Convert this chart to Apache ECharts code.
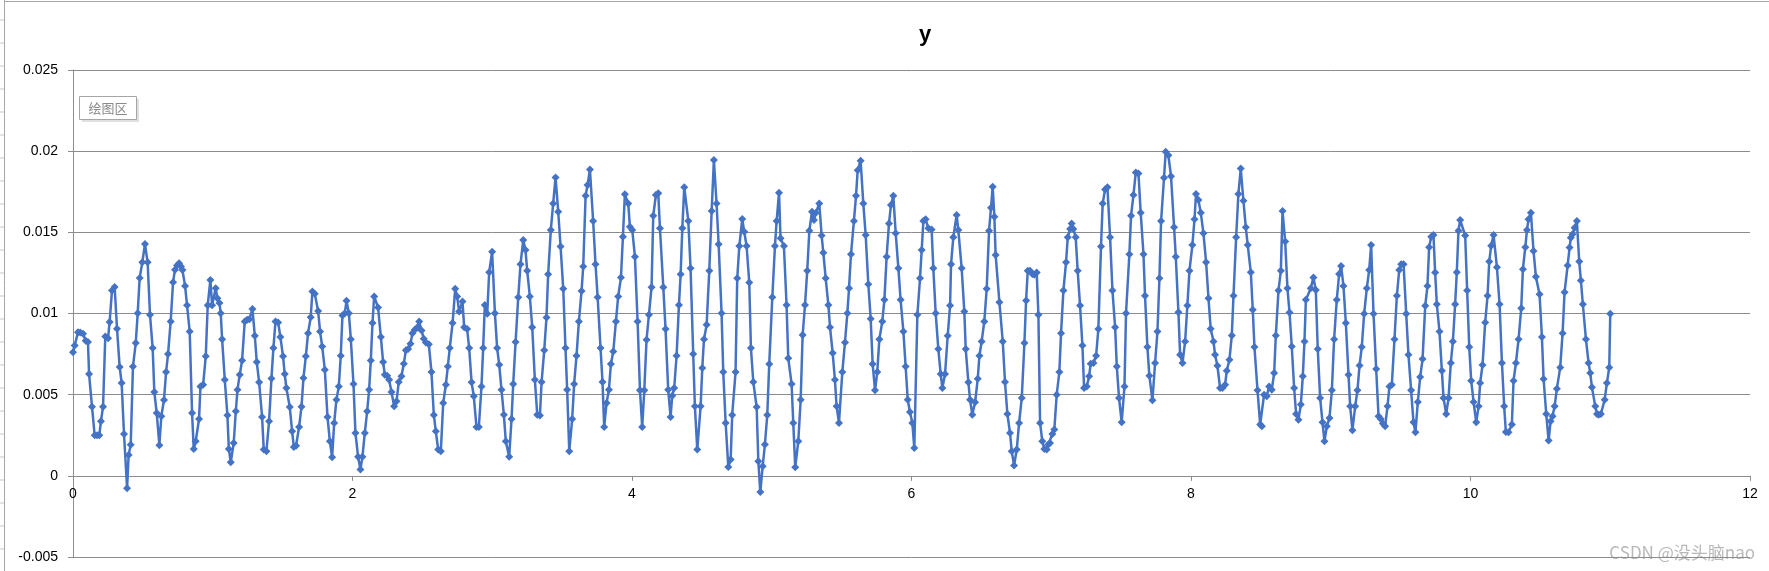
<!DOCTYPE html>
<html>
<head>
<meta charset="utf-8">
<script src="https://cdn.jsdelivr.net/npm/echarts@6/dist/echarts.min.js"></script>
<style>
html,body{margin:0;padding:0;background:#fff;}
#chart{width:1769px;height:571px;}
</style>
</head>
<body>
<div id="chart"></div>
<script>
// Tick settings
const xTicks = { min: 0, max: 12, interval: 2 };
const yTicks = { min: -0.005, max: 0.025, interval: 0.005 };
const chartTitle = 'y';
const plotAreaLabel = '绘图区';
const watermark = 'CSDN @没头脑nao';

// Samples [x, y], in segments
const seg1 = [[0,0.00762],[0.012,0.00803],[0.036,0.00885],[0.052,0.00883],[0.072,0.00875],[0.091,0.00832],[0.107,0.00824],[0.115,0.00627],[0.136,0.00426],[0.155,0.0025],[0.172,0.0025],[0.188,0.0025],[0.2,0.00336],[0.215,0.00426],[0.231,0.00859],[0.251,0.00848],[0.262,0.00947],[0.279,0.01141],[0.298,0.01164],[0.315,0.00906],[0.334,0.0067],[0.348,0.00572],[0.365,0.00258],[0.387,-0.00076],[0.398,0.00129],[0.413,0.00191],[0.429,0.00674],[0.449,0.00818],[0.463,0.01002],[0.477,0.01219],[0.496,0.01316],[0.515,0.01428],[0.534,0.01316],[0.551,0.00992],[0.57,0.00787],[0.582,0.00516],[0.599,0.00387],[0.618,0.00189],[0.632,0.00367],[0.651,0.00467],[0.666,0.00639],[0.68,0.0075],[0.699,0.00951],[0.716,0.01193],[0.73,0.0127],[0.744,0.01295],[0.759,0.01309],[0.773,0.01289],[0.783,0.01268],[0.802,0.0117],[0.816,0.01051],[0.835,0.00889],[0.852,0.00387],[0.864,0.00166],[0.878,0.00213],[0.902,0.0035],[0.912,0.00551],[0.931,0.00561],[0.95,0.00736],[0.964,0.01051],[0.983,0.01207],[0.995,0.01051]];
const seg2 = [[1.021,0.01156],[1.033,0.01094],[1.048,0.01064],[1.057,0.01002],[1.067,0.00842],[1.086,0.00592],[1.105,0.00373],[1.115,0.00166],[1.129,0.00084],[1.15,0.00203],[1.165,0.00398],[1.177,0.00531],[1.193,0.00623],[1.21,0.00711],[1.229,0.00951],[1.246,0.00961],[1.262,0.00965],[1.284,0.01027],[1.301,0.00863],[1.315,0.00701],[1.332,0.00576],[1.353,0.00363],[1.365,0.00162],[1.384,0.00152],[1.403,0.00336],[1.42,0.006],[1.434,0.00787],[1.449,0.00951],[1.468,0.00945],[1.484,0.00855],[1.503,0.00736],[1.515,0.00627],[1.527,0.00541],[1.551,0.00424],[1.568,0.00275],[1.58,0.00178],[1.596,0.00186],[1.618,0.00301],[1.635,0.00426],[1.649,0.00602],[1.666,0.00736],[1.682,0.00879],[1.701,0.00977],[1.713,0.01135],[1.73,0.01121],[1.754,0.01016],[1.768,0.00889],[1.783,0.00797],[1.802,0.00654],[1.821,0.00363],[1.838,0.00213],[1.854,0.00115],[1.869,0.00326],[1.885,0.00469],[1.902,0.00551],[1.916,0.0074],[1.928,0.00988],[1.945,0.01002],[1.957,0.01078],[1.974,0.01002],[1.988,0.00842],[2.007,0.00566],[2.021,0.00264],[2.04,0.00117],[2.057,0.00039],[2.071,0.00117],[2.088,0.00264],[2.105,0.00398],[2.119,0.00531],[2.131,0.00711],[2.143,0.00941],[2.155,0.01105]];
const seg3 = [[2.183,0.01037],[2.203,0.00855],[2.219,0.00701],[2.231,0.00623],[2.248,0.00617],[2.262,0.00592],[2.279,0.00516],[2.298,0.00428],[2.315,0.00459],[2.331,0.00578],[2.35,0.00613],[2.367,0.00691],[2.382,0.00773],[2.398,0.00781],[2.415,0.00814],[2.429,0.00879],[2.446,0.009],[2.463,0.00914],[2.477,0.00951],[2.494,0.00896],[2.51,0.00844],[2.525,0.00822],[2.546,0.00811],[2.565,0.00639],[2.582,0.00375],[2.596,0.00275],[2.613,0.00162],[2.632,0.00152],[2.649,0.00449],[2.668,0.00561],[2.682,0.00674],[2.696,0.00787],[2.716,0.00941],[2.735,0.01152],[2.749,0.01105],[2.763,0.01012],[2.787,0.01074],[2.799,0.00916],[2.82,0.00904],[2.835,0.00787],[2.852,0.00576],[2.868,0.0049],[2.887,0.00301],[2.904,0.00301],[2.923,0.00551],[2.935,0.00787],[2.947,0.01053],[2.964,0.00998],[2.978,0.01254],[2.999,0.01381],[3.019,0.01002],[3.035,0.00787],[3.05,0.00684],[3.066,0.00531],[3.083,0.00377],[3.097,0.00213],[3.121,0.00117],[3.138,0.0035],[3.15,0.00566],[3.167,0.00824],[3.186,0.011],[3.202,0.01303],[3.222,0.01453],[3.238,0.01391],[3.25,0.01264]];
const seg4 = [[3.269,0.01105],[3.286,0.00916],[3.305,0.00592],[3.322,0.00377],[3.341,0.00371],[3.353,0.00578],[3.372,0.00773],[3.388,0.00975],[3.4,0.01242],[3.419,0.01514],[3.436,0.01678],[3.453,0.01838],[3.472,0.01627],[3.489,0.01412],[3.508,0.01152],[3.524,0.00787],[3.536,0.00531],[3.551,0.00152],[3.572,0.0035],[3.586,0.00566],[3.603,0.0074],[3.62,0.00951],[3.639,0.01139],[3.651,0.01289],[3.668,0.01725],[3.682,0.01791],[3.699,0.01887],[3.722,0.0157],[3.739,0.01303],[3.754,0.011],[3.775,0.00787],[3.789,0.00578],[3.801,0.00301],[3.818,0.00449],[3.835,0.00531],[3.849,0.00689],[3.866,0.00766],[3.885,0.00951],[3.901,0.01105],[3.921,0.01221],[3.935,0.01473],[3.949,0.01734],[3.973,0.01678],[3.985,0.01535],[4.002,0.01514],[4.021,0.0135],[4.04,0.00951],[4.057,0.00527],[4.073,0.00301],[4.088,0.00527],[4.104,0.00838],[4.121,0.00992],[4.14,0.01162],[4.152,0.01602],[4.171,0.0173],[4.188,0.0174],[4.2,0.01525],[4.224,0.01162],[4.24,0.00904],[4.259,0.00531],[4.276,0.00363],[4.288,0.00494],[4.302,0.00541],[4.319,0.0074],[4.336,0.01053],[4.348,0.01242],[4.36,0.01525],[4.374,0.01777]];
const seg5 = [[4.403,0.0157],[4.419,0.01279],[4.438,0.0075],[4.45,0.00428],[4.467,0.00162],[4.491,0.00428],[4.503,0.00664],[4.515,0.00842],[4.534,0.0093],[4.553,0.01264],[4.57,0.01631],[4.586,0.01945],[4.605,0.01678],[4.62,0.01426],[4.641,0.01002],[4.653,0.00639],[4.67,0.00326],[4.689,0.00055],[4.706,0.001],[4.717,0.00375],[4.741,0.00639],[4.753,0.01217],[4.768,0.01416],[4.789,0.01582],[4.803,0.01504],[4.82,0.01416],[4.839,0.01191],[4.851,0.00787],[4.868,0.00578],[4.892,0.00424],[4.904,0.0009],[4.918,-0.001],[4.935,0.00059],[4.951,0.00193],[4.968,0.00375],[4.982,0.00689],[5.004,0.011],[5.023,0.01416],[5.035,0.0157],[5.052,0.01744],[5.063,0.01463],[5.087,0.01416],[5.106,0.01053],[5.118,0.00725],[5.142,0.00566],[5.154,0.00326],[5.168,0.00053],[5.19,0.00213],[5.207,0.00469],[5.221,0.00867],[5.238,0.01053],[5.254,0.01264],[5.269,0.0151],[5.288,0.01627],[5.302,0.01576],[5.316,0.01621],[5.34,0.01678],[5.357,0.0148],[5.369,0.01375],[5.386,0.01217],[5.405,0.01053],[5.417,0.00916],[5.436,0.00756],[5.452,0.00592],[5.464,0.00428],[5.481,0.00326]];
const seg6 = [[5.505,0.00639],[5.524,0.00822],[5.541,0.01002],[5.553,0.01156],[5.567,0.01365],[5.588,0.0157],[5.603,0.01725],[5.615,0.01883],[5.636,0.01941],[5.655,0.01678],[5.672,0.01484],[5.691,0.0118],[5.708,0.00967],[5.722,0.00689],[5.739,0.00527],[5.755,0.00639],[5.77,0.00842],[5.791,0.00951],[5.806,0.01084],[5.822,0.0135],[5.839,0.01555],[5.853,0.01668],[5.87,0.01725],[5.887,0.01494],[5.906,0.01279],[5.922,0.01084],[5.942,0.00889],[5.958,0.00674],[5.973,0.00469],[5.989,0.00393],[6.006,0.00326],[6.02,0.00172],[6.042,0.00992],[6.061,0.01217],[6.073,0.01391],[6.085,0.0157],[6.101,0.0158],[6.121,0.01525],[6.144,0.01518],[6.156,0.01279],[6.173,0.01002],[6.192,0.00781],[6.209,0.00627],[6.221,0.00541],[6.24,0.00627],[6.259,0.00863],[6.276,0.01049],[6.283,0.01303],[6.299,0.01469],[6.323,0.01607],[6.335,0.01514],[6.359,0.01279],[6.378,0.01012],[6.388,0.00781],[6.407,0.00576],[6.419,0.00469],[6.435,0.00377],[6.455,0.00453],[6.474,0.00598],[6.486,0.0074],[6.502,0.00828],[6.521,0.00951],[6.538,0.01152],[6.555,0.0151],[6.569,0.01652],[6.581,0.01781],[6.593,0.01596],[6.602,0.01361]];
const seg7 = [[6.629,0.0107],[6.653,0.00828],[6.669,0.00578],[6.686,0.00381],[6.705,0.00264],[6.717,0.00152],[6.734,0.00064],[6.753,0.00162],[6.77,0.00326],[6.789,0.0048],[6.808,0.00818],[6.82,0.0108],[6.832,0.01264],[6.848,0.01264],[6.865,0.01244],[6.879,0.01238],[6.896,0.01252],[6.908,0.00992],[6.92,0.00326],[6.936,0.00213],[6.951,0.00166],[6.968,0.00162],[6.979,0.00193],[6.991,0.00203],[7.008,0.00258],[7.022,0.00285],[7.039,0.005],[7.058,0.00639],[7.07,0.00879],[7.087,0.01141],[7.106,0.01316],[7.118,0.01469],[7.135,0.0152],[7.146,0.01555],[7.158,0.0152],[7.175,0.01469],[7.189,0.01264],[7.206,0.01049],[7.223,0.00803],[7.235,0.00541],[7.254,0.00551],[7.271,0.00613],[7.282,0.00691],[7.302,0.00695],[7.321,0.0074],[7.337,0.00904],[7.356,0.01412],[7.368,0.01678],[7.385,0.01764],[7.402,0.01777],[7.421,0.01469],[7.438,0.01141],[7.457,0.00916],[7.469,0.00674],[7.485,0.0048],[7.504,0.0033],[7.524,0.00551],[7.535,0.01002],[7.559,0.01365],[7.571,0.01602],[7.588,0.0173],[7.605,0.01869],[7.624,0.01863],[7.64,0.01621],[7.66,0.01365],[7.671,0.01109],[7.688,0.00793],[7.702,0.00617]];
const seg8 = [[7.724,0.00465],[7.743,0.00695],[7.76,0.00889],[7.774,0.01217],[7.786,0.0157],[7.807,0.01836],[7.819,0.01996],[7.838,0.01975],[7.857,0.01846],[7.879,0.01531],[7.891,0.0135],[7.91,0.01008],[7.922,0.00746],[7.939,0.00695],[7.958,0.00828],[7.974,0.01049],[7.989,0.01264],[8.01,0.01422],[8.025,0.0158],[8.036,0.01736],[8.053,0.01699],[8.07,0.01621],[8.089,0.01494],[8.108,0.01316],[8.125,0.01094],[8.141,0.00906],[8.161,0.00828],[8.172,0.00746],[8.189,0.00678],[8.208,0.00541],[8.225,0.00541],[8.244,0.00561],[8.256,0.00648],[8.275,0.00715],[8.292,0.00865],[8.304,0.01109],[8.323,0.01469],[8.339,0.01736],[8.356,0.01893],[8.375,0.01695],[8.392,0.01531],[8.406,0.01422],[8.428,0.01254],[8.442,0.01023],[8.454,0.00793],[8.476,0.00527],[8.495,0.00316],[8.507,0.00305],[8.523,0.005],[8.542,0.0049],[8.559,0.00551],[8.578,0.00531],[8.595,0.00633],[8.607,0.00865],[8.626,0.01141],[8.643,0.01264],[8.655,0.01631],[8.674,0.01443],[8.69,0.01156],[8.705,0.01006],[8.721,0.00797],[8.738,0.00541],[8.752,0.00381],[8.769,0.00346],[8.786,0.00439],[8.8,0.00613],[8.812,0.00828],[8.822,0.01084]];
const seg9 = [[8.857,0.01156],[8.876,0.01221],[8.893,0.01145],[8.907,0.00781],[8.924,0.0048],[8.941,0.0033],[8.955,0.00213],[8.972,0.00305],[8.991,0.00357],[9.008,0.00527],[9.024,0.00842],[9.043,0.01084],[9.06,0.01244],[9.074,0.01293],[9.091,0.0117],[9.108,0.00941],[9.127,0.00623],[9.139,0.00428],[9.155,0.00281],[9.175,0.00428],[9.191,0.00527],[9.206,0.0068],[9.222,0.00793],[9.239,0.00998],[9.258,0.01156],[9.275,0.01268],[9.289,0.01422],[9.306,0.00998],[9.325,0.00658],[9.342,0.00367],[9.358,0.0035],[9.373,0.00322],[9.389,0.00305],[9.406,0.00428],[9.42,0.00551],[9.437,0.00561],[9.456,0.00842],[9.473,0.01109],[9.49,0.01268],[9.504,0.01303],[9.521,0.01303],[9.54,0.00998],[9.556,0.00746],[9.575,0.00527],[9.592,0.0033],[9.606,0.00268],[9.623,0.00455],[9.64,0.00609],[9.657,0.00719],[9.676,0.01047],[9.692,0.0117],[9.704,0.01408],[9.719,0.01473],[9.735,0.01484],[9.747,0.01252],[9.759,0.01057],[9.778,0.00889],[9.795,0.00648],[9.807,0.0048],[9.826,0.00381],[9.843,0.0048],[9.859,0.00695],[9.874,0.00828],[9.89,0.01057],[9.902,0.01254],[9.914,0.0151],[9.926,0.01576]];
const seg10 = [[9.962,0.0148],[9.976,0.01141],[9.991,0.00793],[10.005,0.00586],[10.022,0.00455],[10.041,0.0033],[10.058,0.00428],[10.069,0.00572],[10.086,0.00682],[10.105,0.00945],[10.122,0.01109],[10.134,0.0132],[10.148,0.01418],[10.165,0.01484],[10.189,0.01285],[10.208,0.01057],[10.225,0.00695],[10.241,0.00428],[10.253,0.0027],[10.272,0.00268],[10.296,0.00316],[10.308,0.00586],[10.325,0.00695],[10.344,0.00842],[10.363,0.01033],[10.375,0.01273],[10.392,0.01408],[10.404,0.01514],[10.415,0.0158],[10.432,0.01621],[10.451,0.01385],[10.468,0.01227],[10.494,0.01119],[10.511,0.00855],[10.523,0.00596],[10.542,0.00381],[10.559,0.00217],[10.573,0.00336],[10.587,0.00367],[10.602,0.00428],[10.618,0.00537],[10.642,0.00668],[10.659,0.00879],[10.673,0.01131],[10.695,0.01295],[10.709,0.01406],[10.718,0.01467],[10.73,0.01488],[10.745,0.01529],[10.761,0.0157],[10.778,0.0132],[10.79,0.01203],[10.804,0.01057],[10.826,0.00842],[10.845,0.00695],[10.857,0.00633],[10.869,0.00545],[10.893,0.00428],[10.905,0.00381],[10.917,0.00377],[10.933,0.00381],[10.96,0.00469],[10.976,0.00572],[10.993,0.00668],[11,0.00998]];

const seriesData = [].concat(seg1, seg2, seg3, seg4, seg5, seg6, seg7, seg8, seg9, seg10);

const chart = echarts.init(document.getElementById('chart'), null, { renderer: 'canvas' });

const axisGray = '#8c8c8c';
const fontFam = '"Liberation Sans", Arial, sans-serif';

// grid geometry; the x axis is lifted from the grid bottom up to the y = 0 line
const gridTop = 70, gridBottom = 14, chartH = 571;
const plotH = chartH - gridTop - gridBottom;
const zeroLift = plotH * (0 - yTicks.min) / (yTicks.max - yTicks.min);

// sheet row ticks at the far left (decoration)
const rowTicks = [];
for (let k = 0; k < 25; k++) {
  rowTicks.push({ type: 'line', shape: { x1: 0, y1: 20 + 23 * k, x2: 4, y2: 20 + 23 * k }, style: { stroke: '#c8c8c8', lineWidth: 1 }, silent: true });
}

chart.setOption({
  animation: false,
  backgroundColor: '#ffffff',
  title: {
    text: chartTitle,
    left: 920, top: 19, textAlign: 'center',
    textStyle: { fontSize: 22, fontWeight: 'bold', color: '#000', fontFamily: fontFam }
  },
  grid: { left: 73, right: 19, top: gridTop, bottom: gridBottom, containLabel: false },
  xAxis: {
    type: 'value', min: xTicks.min, max: xTicks.max, interval: xTicks.interval,
    position: 'bottom',
    offset: -zeroLift,
    axisLine: { show: true, onZero: false, lineStyle: { color: axisGray, width: 1 } },
    axisTick: { show: true, length: 5, lineStyle: { color: axisGray } },
    axisLabel: { color: '#000', fontSize: 14, margin: 11, fontFamily: fontFam },
    splitLine: { show: false }
  },
  yAxis: {
    type: 'value', min: yTicks.min, max: yTicks.max, interval: yTicks.interval,
    axisLine: { show: true, lineStyle: { color: axisGray, width: 1 } },
    axisTick: { show: true, length: 5, lineStyle: { color: axisGray } },
    axisLabel: {
      color: '#000', fontSize: 14, margin: 15, fontFamily: fontFam,
      formatter: v => String(+v.toFixed(3))
    },
    splitLine: { show: true, lineStyle: { color: axisGray, width: 1 } }
  },
  series: [{
    type: 'line',
    data: seriesData,
    symbol: 'diamond',
    symbolSize: 8,
    showSymbol: true,
    lineStyle: { color: '#4472C4', width: 2.5 },
    itemStyle: { color: '#4472C4' },
    z: 3
  }],
  graphic: [
    { type: 'line', shape: { x1: 4.5, y1: 0, x2: 4.5, y2: 571 }, style: { stroke: '#a6a6a6', lineWidth: 1 }, silent: true },
    { type: 'line', shape: { x1: 4.5, y1: 1.5, x2: 1769, y2: 1.5 }, style: { stroke: '#a6a6a6', lineWidth: 1 }, silent: true },
    ...rowTicks,
    {
      type: 'group', left: 79, top: 96, silent: true,
      children: [
        { type: 'rect', shape: { x: 3, y: 3, width: 57, height: 23 }, style: { fill: 'rgba(0,0,0,0.12)' } },
        { type: 'rect', shape: { x: 0.5, y: 0.5, width: 57, height: 23 }, style: { fill: '#fff', stroke: '#a6a6a6', lineWidth: 1 } },
        { type: 'text', x: 29, y: 12.5, style: { text: plotAreaLabel, fill: '#8a8a8a', font: '13px "Noto Sans CJK SC", sans-serif', textAlign: 'center', textVerticalAlign: 'middle' } }
      ]
    },
    {
      type: 'text', right: 14, top: 544, silent: true,
      style: { text: watermark, fill: '#b8b8b8', font: '17px "Noto Sans CJK SC", sans-serif' }
    }
  ]
});
</script>
</body>
</html>
